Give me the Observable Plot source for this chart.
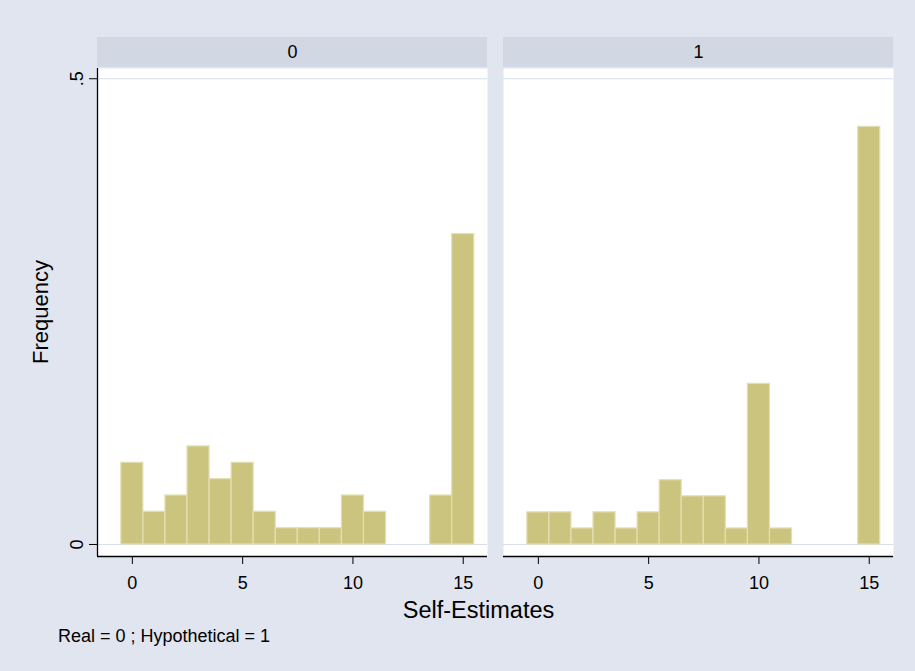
<!DOCTYPE html>
<html>
<head>
<meta charset="utf-8">
<script src="https://cdn.jsdelivr.net/npm/d3@7"></script>
<script src="https://cdn.jsdelivr.net/npm/@observablehq/plot@0.6"></script>
<style>
  html, body { margin: 0; padding: 0; background: #e1e5ef; }
  #wrap { position: relative; width: 915px; height: 671px; background: #e1e5ef; overflow: hidden;
          font-family: "Liberation Sans", Arial, Helvetica, sans-serif; color: #000; }
  #wrap svg { position: absolute; left: 0; top: 0; }
  .lbl { position: absolute; white-space: nowrap; line-height: 1; }
</style>
</head>
<body>
<div id="wrap"></div>
<script>
// ---- data ----
const groups = ["0", "1"];
const bins = [0, 1, 2, 3, 4, 5, 6, 7, 8, 9, 10, 11, 12, 13, 14, 15];
const freqReal = [0.0877, 0.0351, 0.0526, 0.1053, 0.0702, 0.0877, 0.0351, 0.0175,
                  0.0175, 0.0175, 0.0526, 0.0351, 0, 0, 0.0526, 0.3333];
const freqHypo = [0.0345, 0.0345, 0.0172, 0.0345, 0.0172, 0.0345, 0.0690, 0.0517,
                  0.0517, 0.0172, 0.1724, 0.0172, 0, 0, 0, 0.4483];
const xTicks = [0, 5, 10, 15];
const yTicks = [0, 0.5];
const yTickLabels = ["0", ".5"];
const xTitle = "Self-Estimates";
const yTitle = "Frequency";
const noteText = "Real = 0 ; Hypothetical = 1";

// ---- table built from the arrays ----
const rows = [];
bins.forEach((b, i) => {
  rows.push({group: groups[0], bin: b, freq: freqReal[i]});
  rows.push({group: groups[1], bin: b, freq: freqHypo[i]});
});
const bars = rows.filter(d => d.freq > 0);

const xDom = [-1.58, 16.1];
const yDom = [-0.0129, 0.511];
const stripLo = 0.5122, stripHi = 0.5443;
const font = "'Liberation Sans', Arial, Helvetica, sans-serif";

const chart = Plot.plot({
  width: 915,
  height: 671,
  marginLeft: 97,
  marginRight: 21,
  marginTop: 68,
  marginBottom: 115,
  style: {background: "transparent", fontFamily: font, fontSize: "18px", color: "black", overflow: "visible"},
  fx: {domain: groups, paddingInner: 0.0394, paddingOuter: 0, axis: null, label: null},
  x: {domain: xDom, ticks: xTicks, tickSize: 8, tickPadding: 12, tickFormat: d => String(d), label: null},
  y: {domain: yDom, ticks: yTicks, tickSize: 8, tickPadding: 7, tickRotate: -90,
      tickFormat: d => yTickLabels[yTicks.indexOf(d)], label: null},
  marks: [
    Plot.frame({fill: "white", stroke: "none"}),
    Plot.rect(groups, {fx: d => d, x1: () => xDom[0], x2: () => xDom[1], y1: () => stripLo, y2: () => stripHi, fill: "#d1d7e3"}),
    Plot.text(groups, {fx: d => d, text: d => d, frameAnchor: "top", lineAnchor: "middle", dy: -16, fontSize: 18, fill: "black"}),
    Plot.ruleY(yTicks, {y: d => d, stroke: "#d6dfeb", strokeWidth: 1}),
    Plot.rect(bars, {fx: "group", x1: d => d.bin - 0.5, x2: d => d.bin + 0.5, y1: () => 0, y2: "freq",
                     fill: "#cbc47f", stroke: "#e4dfb3", strokeWidth: 1.2}),
    Plot.ruleY([yDom[0]], {y: d => d, stroke: "black", strokeWidth: 1.3}),
    Plot.ruleX(groups.slice(0, 1), {fx: d => d, x: () => xDom[0], stroke: "black", strokeWidth: 1.3})
  ]
});

const wrap = document.getElementById("wrap");
wrap.appendChild(chart);

function addLabel(text, css) {
  const el = document.createElement("div");
  el.className = "lbl";
  el.textContent = text;
  Object.assign(el.style, css);
  wrap.appendChild(el);
}
addLabel(yTitle, {left: "41px", top: "312px", fontSize: "22px", transform: "translate(-50%, -50%) rotate(-90deg)"});
addLabel(xTitle, {left: "478.5px", top: "599px", fontSize: "23.5px", transform: "translateX(-50%)"});
addLabel(noteText, {left: "58px", top: "627px", fontSize: "18px"});
</script>
</body>
</html>
